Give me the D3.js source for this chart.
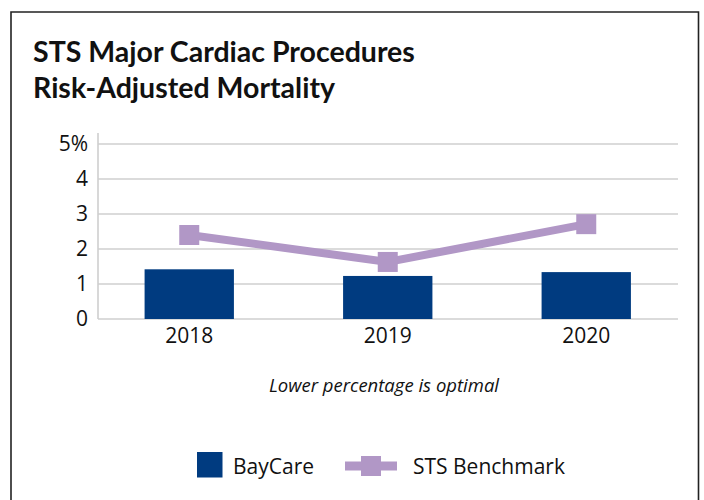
<!DOCTYPE html>
<html>
<head>
<meta charset="utf-8">
<title>STS Major Cardiac Procedures</title>
<script src="https://d3js.org/d3.v7.min.js"></script>
<style>
body { margin: 0; padding: 0; background: #fff; }
svg { display: block; font-family: "Open Sans", Lato, sans-serif; }
</style>
</head>
<body>
<svg id="chart" width="704" height="500"></svg>
<script>
// data
var years = ["2018", "2019", "2020"];
var baycare = [1.42, 1.23, 1.34];
var benchmark = [2.40, 1.63, 2.71];
var yTicks = [0, 1, 2, 3, 4, 5];

var navy = "#003b80",
    lilac = "#b197c6",
    grid = "#cfcfcf",
    bodyFont = "'Open Sans', Lato, sans-serif";

var svg = d3.select("#chart");

// frame (open at the bottom)
svg.append("path")
  .attr("d", "M11,500 V12 H698.5 V500")
  .attr("fill", "none")
  .attr("stroke", "#222")
  .attr("stroke-width", 1.6);

// title
var title = svg.append("text")
  .attr("x", 33)
  .attr("y", 62)
  .attr("font-family", "Lato, sans-serif")
  .attr("font-size", 28.5)
  .attr("font-weight", 700)
  .attr("fill", "#111");
title.append("tspan").attr("x", 33).text("STS Major Cardiac Procedures");
title.append("tspan").attr("x", 33).attr("dy", 36).text("Risk-Adjusted Mortality");

// scales
var x = d3.scaleBand()
  .domain(years)
  .range([90, 685.5])
  .paddingInner(0.55)
  .paddingOuter(0.275);

var y = d3.scaleLinear().domain([0, 5]).range([319, 144]);

var gridLeft = 98, gridRight = 678;

// grid lines
svg.append("g")
  .selectAll("line")
  .data(yTicks)
  .join("line")
  .attr("x1", gridLeft)
  .attr("x2", gridRight)
  .attr("y1", function(d) { return y(d); })
  .attr("y2", function(d) { return y(d); })
  .attr("stroke", grid)
  .attr("stroke-width", 1.6);

// y axis line
svg.append("line")
  .attr("x1", gridLeft).attr("x2", gridLeft)
  .attr("y1", y(5) - 11).attr("y2", y(0))
  .attr("stroke", grid)
  .attr("stroke-width", 1.6);

// y tick labels
var yAxis = d3.axisLeft(y)
  .tickValues(yTicks)
  .tickSize(0)
  .tickPadding(0)
  .tickFormat(function(d) { return d === 5 ? "5%" : d; });

var gy = svg.append("g")
  .attr("transform", "translate(" + 88 + ",0)")
  .call(yAxis);
gy.select(".domain").remove();
gy.selectAll("text")
  .attr("font-size", 21)
  .attr("font-family", bodyFont)
  .attr("fill", "#111");

// x tick labels
var xAxis = d3.axisBottom(x).tickSize(0).tickPadding(0);
var gx = svg.append("g")
  .attr("transform", "translate(0," + 328 + ")")
  .call(xAxis);
gx.select(".domain").remove();
gx.selectAll("text")
  .attr("font-size", 21)
  .attr("font-family", bodyFont)
  .attr("fill", "#111");

// bars
svg.append("g")
  .selectAll("rect")
  .data(years)
  .join("rect")
  .attr("x", function(d) { return x(d); })
  .attr("y", function(d, i) { return y(baycare[i]); })
  .attr("width", x.bandwidth())
  .attr("height", function(d, i) { return y(0) - y(baycare[i]); })
  .attr("fill", navy);

// benchmark line
var line = d3.line()
  .x(function(d, i) { return x(years[i]) + x.bandwidth() / 2; })
  .y(function(d) { return y(d); });

svg.append("path")
  .datum(benchmark)
  .attr("d", line)
  .attr("fill", "none")
  .attr("stroke", lilac)
  .attr("stroke-width", 8);

var mk = 20;
svg.append("g")
  .selectAll("rect")
  .data(benchmark)
  .join("rect")
  .attr("x", function(d, i) { return x(years[i]) + x.bandwidth() / 2 - mk / 2; })
  .attr("y", function(d) { return y(d) - mk / 2; })
  .attr("width", mk)
  .attr("height", mk)
  .attr("fill", lilac);

// note
svg.append("text")
  .attr("x", 384)
  .attr("y", 392)
  .attr("text-anchor", "middle")
  .attr("font-size", 18.5)
  .attr("font-style", "italic")
  .attr("fill", "#111")
  .text("Lower percentage is optimal");

// legend
var leg = svg.append("g");
leg.append("rect")
  .attr("x", 197).attr("y", 452)
  .attr("width", 25.5).attr("height", 25.5)
  .attr("fill", navy);
leg.append("text")
  .attr("x", 233).attr("y", 474)
  .attr("font-size", 21)
  .attr("fill", "#111")
  .text("BayCare");

leg.append("line")
  .attr("x1", 345).attr("x2", 397)
  .attr("y1", 466).attr("y2", 466)
  .attr("stroke", lilac)
  .attr("stroke-width", 9);
leg.append("rect")
  .attr("x", 361).attr("y", 456)
  .attr("width", mk).attr("height", mk)
  .attr("fill", lilac);
leg.append("text")
  .attr("x", 413).attr("y", 474)
  .attr("font-size", 21)
  .attr("fill", "#111")
  .text("STS Benchmark");
</script>
</body>
</html>
